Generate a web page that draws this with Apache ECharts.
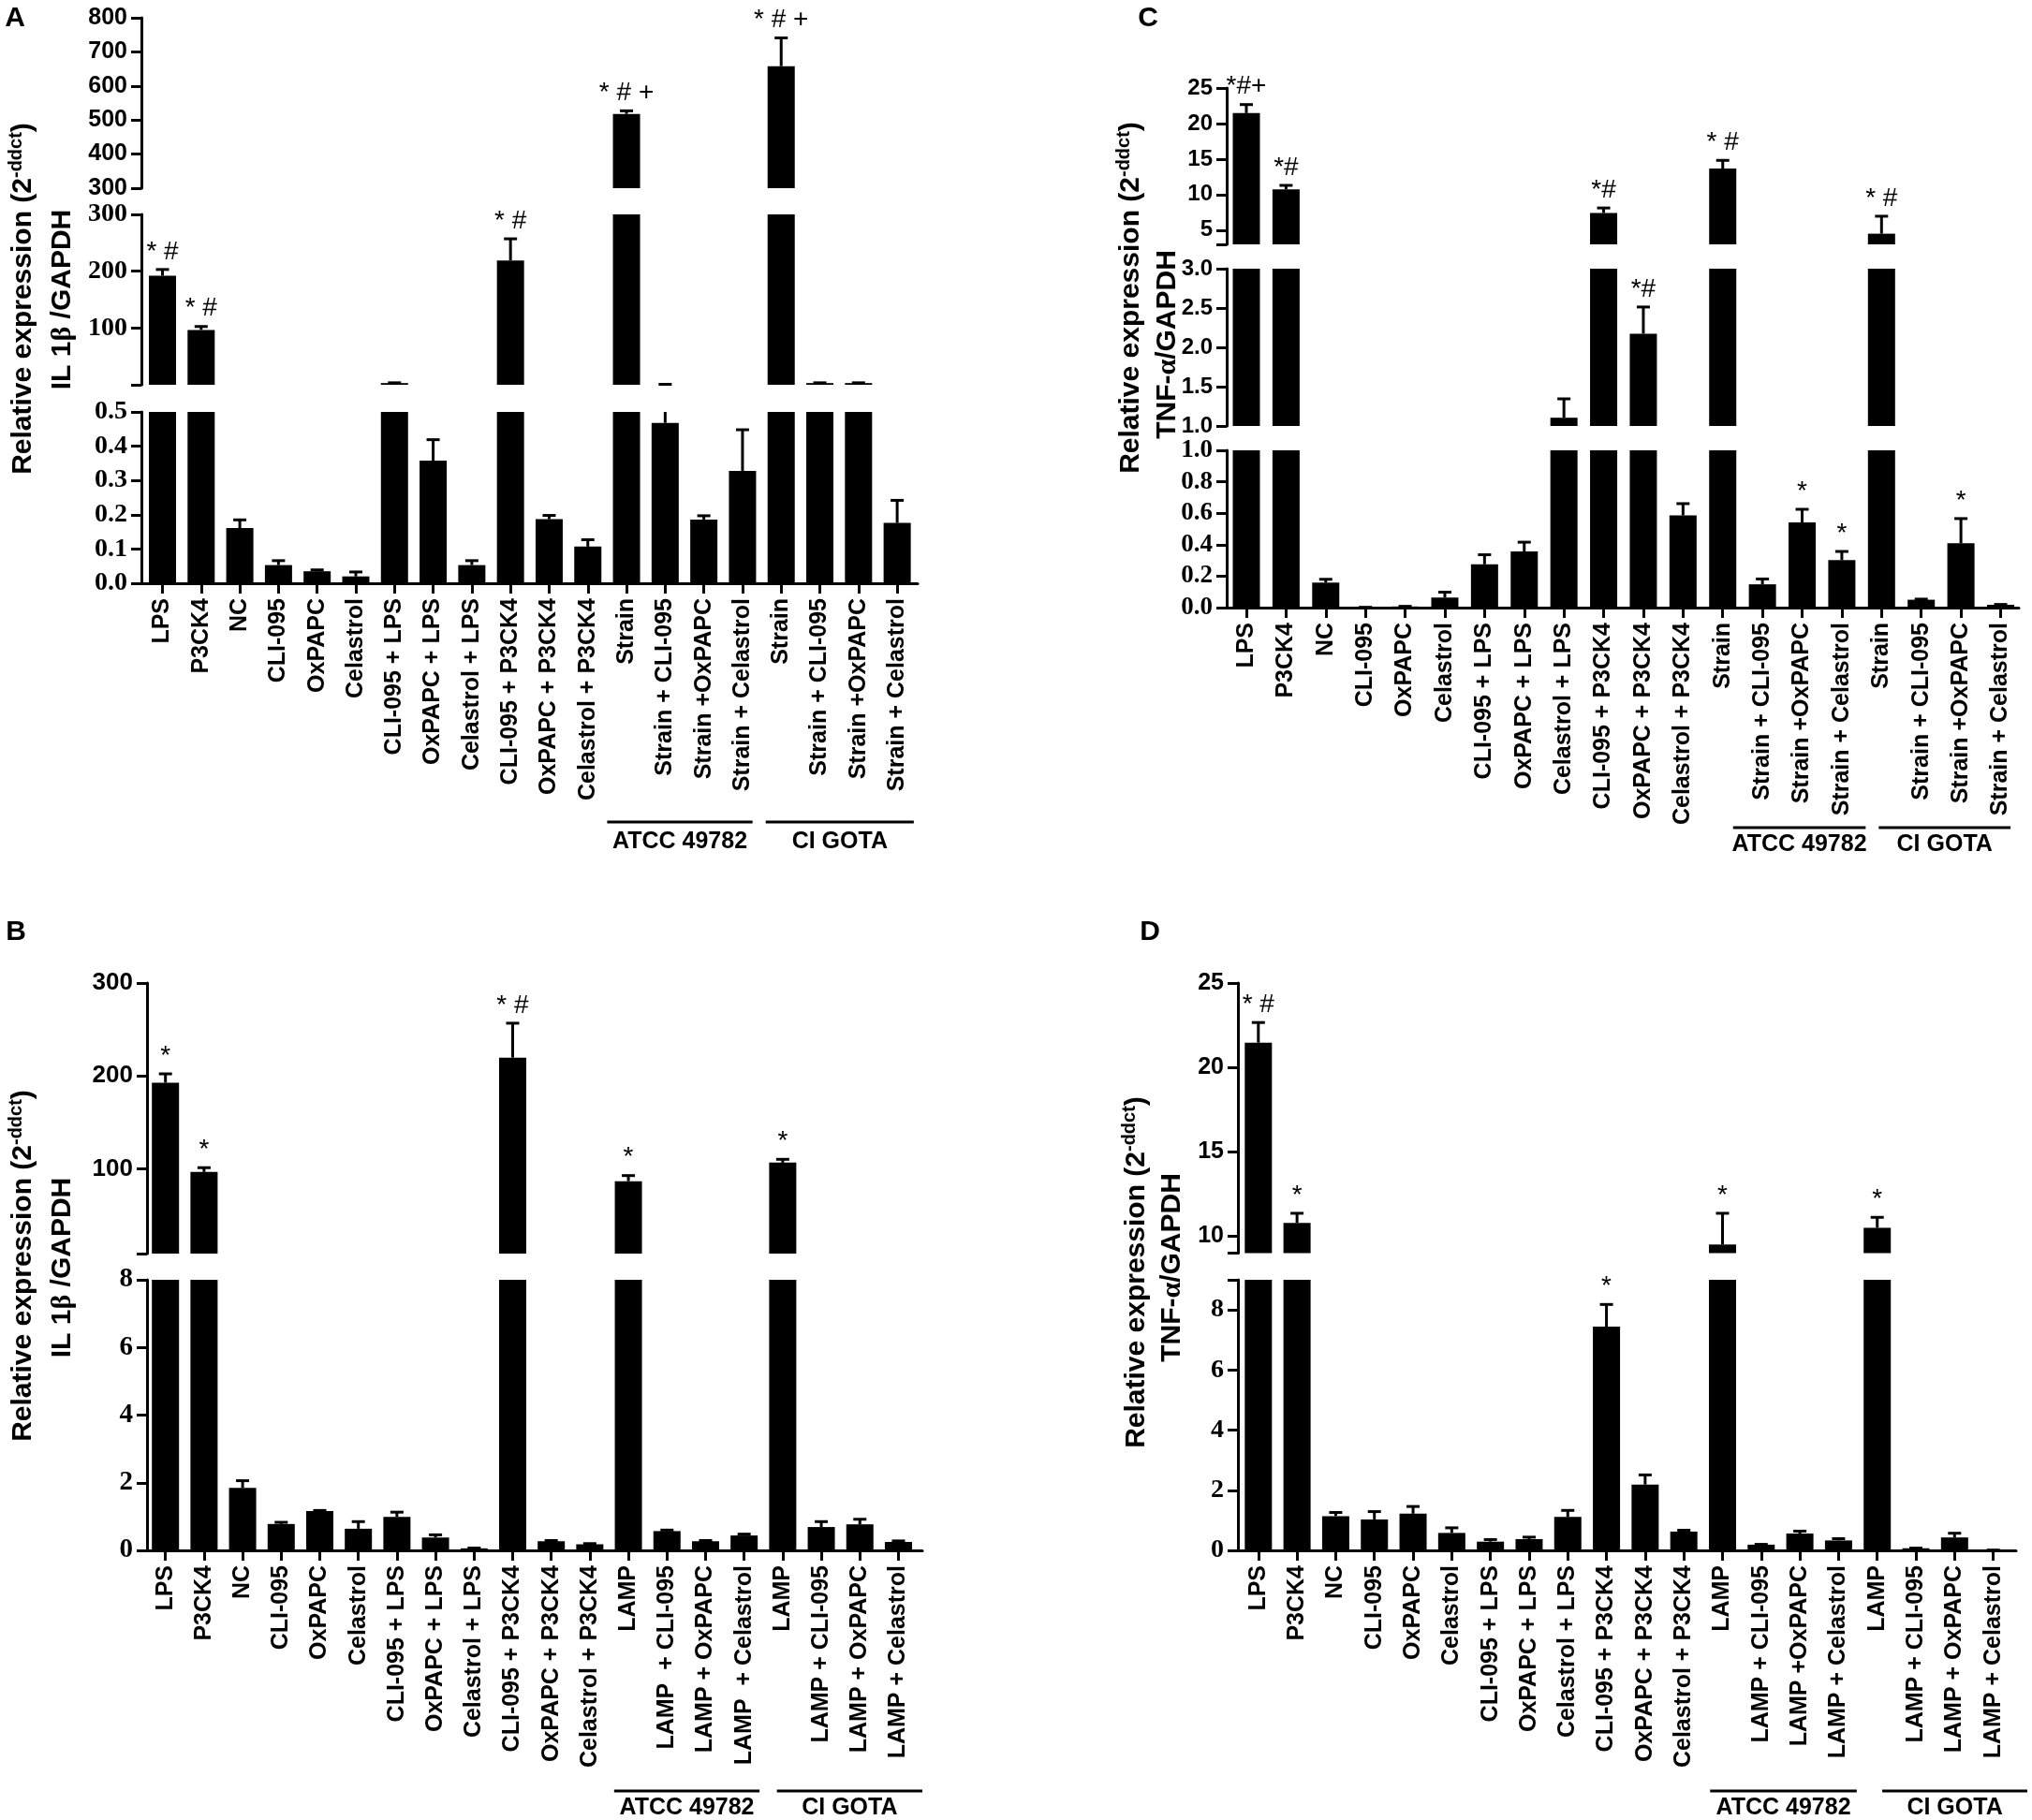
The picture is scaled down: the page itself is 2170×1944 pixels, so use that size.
<!DOCTYPE html>
<html lang="en">
<head>
    <meta charset="UTF-8">
    <title>IL-1β / TNF-α relative expression</title>
    <style>
        html, body { margin: 0; padding: 0; background: #fff; }
        #chart { width: 2170px; height: 1944px; }
    </style>
    <script src="https://cdn.jsdelivr.net/npm/echarts@6.0.0/dist/echarts.min.js"></script>
</head>
<body>
<div id="chart"></div>
<script>
    const SANS = '"Liberation Sans", Arial, Helvetica, sans-serif';
    const SERIF = '"Liberation Serif", "Times New Roman", Times, serif';

    // categories
    const treatments = ['LPS', 'P3CK4', 'NC', 'CLI-095', 'OxPAPC', 'Celastrol',
        'CLI-095 + LPS', 'OxPAPC + LPS', 'Celastrol + LPS',
        'CLI-095 + P3CK4', 'OxPAPC + P3CK4', 'Celastrol + P3CK4'];
    const strainCats = ['Strain', 'Strain + CLI-095', 'Strain +OxPAPC', 'Strain + Celastrol'];
    const lampCatsB1 = ['LAMP', 'LAMP  + CLI-095', 'LAMP + OxPAPC', 'LAMP  + Celastrol'];
    const lampCatsB2 = ['LAMP', 'LAMP + CLI-095', 'LAMP + OxPAPC', 'LAMP + Celastrol'];
    const lampCatsD1 = ['LAMP', 'LAMP + CLI-095', 'LAMP +OxPAPC', 'LAMP + Celastrol'];
    const lampCatsD2 = ['LAMP', 'LAMP + CLI-095', 'LAMP + OxPAPC', 'LAMP + Celastrol'];
    const groups = ['ATCC 49782', 'CI GOTA'];

    // A: IL 1β, strains
    const il1bStrain = [192, 96.6, 0.161, 0.053, 0.035, 0.020, 3, 0.358, 0.053, 219, 0.187, 0.107,
        518, 0.468, 0.186, 0.328, 658, 3, 3, 0.176];
    const il1bStrainErr = [11, 6, 0.024, 0.013, 0.004, 0.013, 0.5, 0.061, 0.013, 38, 0.011, 0.02,
        9, 0.35, 0.011, 0.12, 83, 0.5, 0.5, 0.066];
    const il1bStrainNotes = ['* #', '* #', '', '', '', '', '', '', '', '* #', '', '',
        '* # +', '', '', '', '* # +', '', '', ''];

    // B: IL 1β, LAMP
    const il1bLamp = [192.8, 96.8, 1.85, 0.78, 1.16, 0.64, 0.99, 0.38, 0.06, 219.8, 0.27, 0.18,
        86.9, 0.57, 0.27, 0.44, 106.8, 0.69, 0.77, 0.25];
    const il1bLampErr = [9.5, 4.6, 0.21, 0.05, 0.02, 0.21, 0.14, 0.08, 0.01, 37, 0.02, 0.02,
        6, 0.03, 0.02, 0.04, 3.6, 0.16, 0.15, 0.03];
    const il1bLampNotes = ['*', '*', '', '', '', '', '', '', '', '* #', '', '',
        '*', '', '', '', '*', '', '', ''];

    // C: TNF-α, strains
    const tnfStrain = [21.47, 10.74, 0.159, 0.002, 0.007, 0.064, 0.275, 0.357, 1.105, 7.42, 2.173, 0.586,
        13.67, 0.148, 0.541, 0.302, 4.50, 0.05, 0.409, 0.018];
    const tnfStrainErr = [1.2, 0.56, 0.021, 0, 0.001, 0.034, 0.061, 0.059, 0.24, 0.70, 0.34, 0.075,
        1.15, 0.034, 0.084, 0.055, 2.46, 0.004, 0.157, 0.002];
    const tnfStrainNotes = ['*#+', '*#', '', '', '', '', '', '', '', '*#', '*#', '',
        '* #', '', '*', '*', '* #', '', '*', ''];

    // D: TNF-α, LAMP
    const tnfLamp = [21.47, 10.79, 1.14, 1.03, 1.22, 0.58, 0.29, 0.375, 1.11, 7.44, 2.19, 0.625,
        9.51, 0.19, 0.56, 0.33, 10.5, 0.07, 0.43, 0.01];
    const tnfLampErr = [1.19, 0.57, 0.12, 0.26, 0.24, 0.17, 0.07, 0.065, 0.22, 0.74, 0.32, 0.045,
        1.85, 0.01, 0.08, 0.06, 0.62, 0.005, 0.14, 0];
    const tnfLampNotes = ['* #', '*', '', '', '', '', '', '', '', '*', '', '',
        '*', '', '', '', '*', '', '', ''];

    // tick values per axis segment
    const ticksA1 = [300, 400, 500, 600, 700, 800];
    const ticksA2 = [0, 100, 200, 300];
    const labelsA2 = [100, 200, 300];
    const ticksA3 = [0, 0.1, 0.2, 0.3, 0.4, 0.5];
    const ticksB1 = [9, 100, 200, 300];
    const labelsB1 = [100, 200, 300];
    const ticksB2 = [0, 2, 4, 6, 8];
    const ticksC1 = [3, 5, 10, 15, 20, 25];
    const labelsC1 = [5, 10, 15, 20, 25];
    const ticksC2 = [1, 1.5, 2, 2.5, 3];
    const ticksC3 = [0, 0.2, 0.4, 0.6, 0.8, 1];
    const ticksD1 = [9, 10, 15, 20, 25];
    const labelsD1 = [10, 15, 20, 25];
    const ticksD2 = [0, 2, 4, 6, 8, 9];
    const labelsD2 = [0, 2, 4, 6, 8];

    // layout of the four panels (broken y axes = stacked grids)
    const panels = [
        {
            letter: 'A', letterPos: [16, 20],
            cats: treatments.concat(strainCats, strainCats),
            means: il1bStrain, errs: il1bStrainErr, notes: il1bStrainNotes,
            left: 151, right: 980, xMin: -0.545, xMax: 19.53,
            segs: [
                { top: 19, bottom: 201, min: 300, max: 800, ticks: ticksA1, labels: ticksA1, font: SANS, size: 25, dec: 0 },
                { top: 229, bottom: 411, min: 0, max: 300, ticks: ticksA2, labels: labelsA2, font: SERIF, size: 28, dec: 0 },
                { top: 440, bottom: 623, min: 0, max: 0.5, ticks: ticksA3, labels: ticksA3, font: SERIF, size: 28, dec: 1 }
            ],
            brackets: [[11.5, 15.26], [15.6, 19.43]], lineY: 878, textY: 899,
            title: { x1: 25, y1: 319, x2: 67, y2: 320, gene: '{r|IL 1}{g|β}{r| /GAPDH}' }
        },
        {
            letter: 'B', letterPos: [17, 996],
            cats: treatments.concat(lampCatsB1, lampCatsB2),
            means: il1bLamp, errs: il1bLampErr, notes: il1bLampNotes,
            left: 157, right: 985, xMin: -0.478, xMax: 19.62,
            segs: [
                { top: 1050, bottom: 1339, min: 9, max: 300, ticks: ticksB1, labels: labelsB1, font: SANS, size: 26, dec: 0 },
                { top: 1367, bottom: 1656, min: 0, max: 8, ticks: ticksB2, labels: ticksB2, font: SERIF, size: 29, dec: 0 }
            ],
            brackets: [[11.63, 15.4], [15.85, 19.62]], lineY: 1913, textY: 1931,
            title: { x1: 25, y1: 1352, x2: 67, y2: 1354, gene: '{r|IL 1}{g|β}{r| /GAPDH}' }
        },
        {
            letter: 'C', letterPos: [1226, 20],
            cats: treatments.concat(strainCats, strainCats),
            means: tnfStrain, errs: tnfStrainErr, notes: tnfStrainNotes,
            left: 1310, right: 2156, xMin: -0.495, xMax: 19.46,
            segs: [
                { top: 94, bottom: 261, min: 3, max: 25, ticks: ticksC1, labels: labelsC1, font: SANS, size: 24, dec: 0 },
                { top: 287, bottom: 455, min: 1, max: 3, ticks: ticksC2, labels: ticksC2, font: SANS, size: 24, dec: 1 },
                { top: 481, bottom: 649, min: 0, max: 1, ticks: ticksC3, labels: ticksC3, font: SERIF, size: 27, dec: 1 }
            ],
            brackets: [[12.26, 15.6], [15.93, 19.25]], lineY: 884, textY: 902,
            title: { x1: 1208, y1: 318, x2: 1247, y2: 368, gene: '{r|TNF-}{g|α}{r|/GAPDH}' }
        },
        {
            letter: 'D', letterPos: [1228, 996],
            cats: treatments.concat(lampCatsD1, lampCatsD2),
            means: tnfLamp, errs: tnfLampErr, notes: tnfLampNotes,
            left: 1322, right: 2153, xMin: -0.528, xMax: 19.59,
            segs: [
                { top: 1050, bottom: 1338.5, min: 9, max: 25, ticks: ticksD1, labels: labelsD1, font: SANS, size: 25, dec: 0 },
                { top: 1367, bottom: 1656, min: 0, max: 9, ticks: ticksD2, labels: labelsD2, font: SERIF, size: 28, dec: 0 }
            ],
            brackets: [[11.68, 15.47], [16.13, 19.88]], lineY: 1913, textY: 1931,
            title: { x1: 1214, y1: 1359, x2: 1252, y2: 1354, gene: '{r|TNF-}{g|α}{r|/GAPDH}' }
        }
    ];

    const black = '#000';

    // error bar (+ significance marks) drawn per axis segment, clipped by hand;
    // floor = top of the segment below, so whiskers living there are skipped
    function errorRenderer(p, s, floor) {
        return function (params, api) {
            const i = api.value(0);
            const m = api.value(1);
            const e = api.value(2);
            const t = m + e;
            if (t <= s.min || t <= floor || m >= s.max) return null;
            const x = api.coord([i, m])[0];
            const ya = api.coord([i, Math.max(m, s.min)])[1];
            const yb = api.coord([i, Math.min(t, s.max)])[1];
            const kids = [{
                type: 'line', shape: { x1: x, y1: ya, x2: x, y2: yb },
                style: { stroke: black, lineWidth: 3 }
            }];
            if (t <= s.max) {
                kids.push({
                    type: 'line', shape: { x1: x - 7, y1: yb, x2: x + 7, y2: yb },
                    style: { stroke: black, lineWidth: 3 }
                });
                const note = p.notes[params.dataIndex];
                if (note) {
                    kids.push({
                        type: 'text', x: x, y: yb - 5,
                        style: {
                            text: note, fill: black, fontSize: 28, fontFamily: SANS,
                            align: 'center', verticalAlign: 'bottom'
                        }
                    });
                }
            }
            return { type: 'group', children: kids };
        };
    }

    const option = { animation: false, backgroundColor: '#fff', grid: [], xAxis: [], yAxis: [], series: [] };
    const bottomGrid = {};

    panels.forEach(p => {
        const idx = p.cats.map((c, i) => i);
        p.segs.forEach((s, si) => {
            const gi = option.grid.length;
            const last = si === p.segs.length - 1;
            if (last) bottomGrid[p.letter] = gi;
            const floor = last ? -Infinity : p.segs[si + 1].max;

            option.grid.push({
                left: p.left, top: s.top, width: p.right - p.left, height: s.bottom - s.top,
                containLabel: false, outerBoundsMode: 'none'
            });
            option.xAxis.push({
                type: 'value', gridIndex: gi, min: p.xMin, max: p.xMax, show: last,
                splitLine: { show: false },
                axisLine: { show: true, onZero: false, lineStyle: { color: black, width: 3 } },
                axisTick: { show: true, customValues: idx, length: 11, lineStyle: { color: black, width: 3 } },
                axisLabel: {
                    customValues: idx, rotate: 90, margin: 16,
                    formatter: v => p.cats[Math.round(v)],
                    fontFamily: SANS, fontWeight: 'bold', fontSize: 25, color: black
                }
            });
            option.yAxis.push({
                type: 'value', gridIndex: gi, min: s.min, max: s.max,
                splitLine: { show: false },
                axisLine: { show: true, onZero: false, lineStyle: { color: black, width: 3 } },
                axisTick: { show: true, customValues: s.ticks, length: 11, lineStyle: { color: black, width: 3 } },
                axisLabel: {
                    customValues: s.labels, margin: 15,
                    formatter: v => v.toFixed(s.dec),
                    fontFamily: s.font, fontWeight: 'bold', fontSize: s.size, color: black
                }
            });
            option.series.push({
                type: 'bar', xAxisIndex: gi, yAxisIndex: gi, barWidth: 29, clip: true, silent: true,
                itemStyle: { color: black },
                data: p.means.map((v, i) => [i, v]).filter(d => d[1] > floor)
            });
            option.series.push({
                type: 'custom', xAxisIndex: gi, yAxisIndex: gi, clip: false, silent: true, z: 5,
                data: p.means.map((v, i) => [i, v, p.errs[i]]),
                renderItem: errorRenderer(p, s, floor)
            });
        });
    });

    const chart = echarts.init(document.getElementById('chart'));
    chart.setOption(option);

    // panel letters, axis titles, strain group brackets
    const titleRich = {
        r: { fontSize: 30, fontWeight: 'bold', fontFamily: SANS, fill: black, color: black, lineHeight: 36, verticalAlign: 'middle' },
        s: { fontSize: 20, fontWeight: 'bold', fontFamily: SANS, fill: black, color: black, lineHeight: 20, verticalAlign: 'top' },
        g: { fontSize: 30, fontWeight: 'bold', fontFamily: SERIF, fill: black, color: black, lineHeight: 36, verticalAlign: 'middle' }
    };
    const graphic = [];
    panels.forEach(p => {
        graphic.push({
            type: 'text', x: p.letterPos[0], y: p.letterPos[1],
            style: { text: p.letter, fill: black, font: 'bold 30px ' + SANS, align: 'center', verticalAlign: 'middle' }
        });
        graphic.push({
            type: 'text', x: p.title.x1, y: p.title.y1, rotation: Math.PI / 2,
            style: { text: '{r|Relative expression (2}{s|-ddct}{r|)}', rich: titleRich, align: 'center', verticalAlign: 'middle' }
        });
        graphic.push({
            type: 'text', x: p.title.x2, y: p.title.y2, rotation: Math.PI / 2,
            style: { text: p.title.gene, rich: titleRich, align: 'center', verticalAlign: 'middle' }
        });
        const gi = bottomGrid[p.letter];
        p.brackets.forEach((b, k) => {
            const x1 = chart.convertToPixel({ xAxisIndex: gi }, b[0]);
            const x2 = chart.convertToPixel({ xAxisIndex: gi }, b[1]);
            graphic.push({
                type: 'line', shape: { x1: x1, y1: p.lineY, x2: x2, y2: p.lineY },
                style: { stroke: black, lineWidth: 3 }
            });
            graphic.push({
                type: 'text', x: (x1 + x2) / 2, y: p.textY,
                style: { text: groups[k], fill: black, font: 'bold 25px ' + SANS, align: 'center', verticalAlign: 'middle' }
            });
        });
    });
    chart.setOption({ graphic: graphic });
</script>
</body>
</html>
